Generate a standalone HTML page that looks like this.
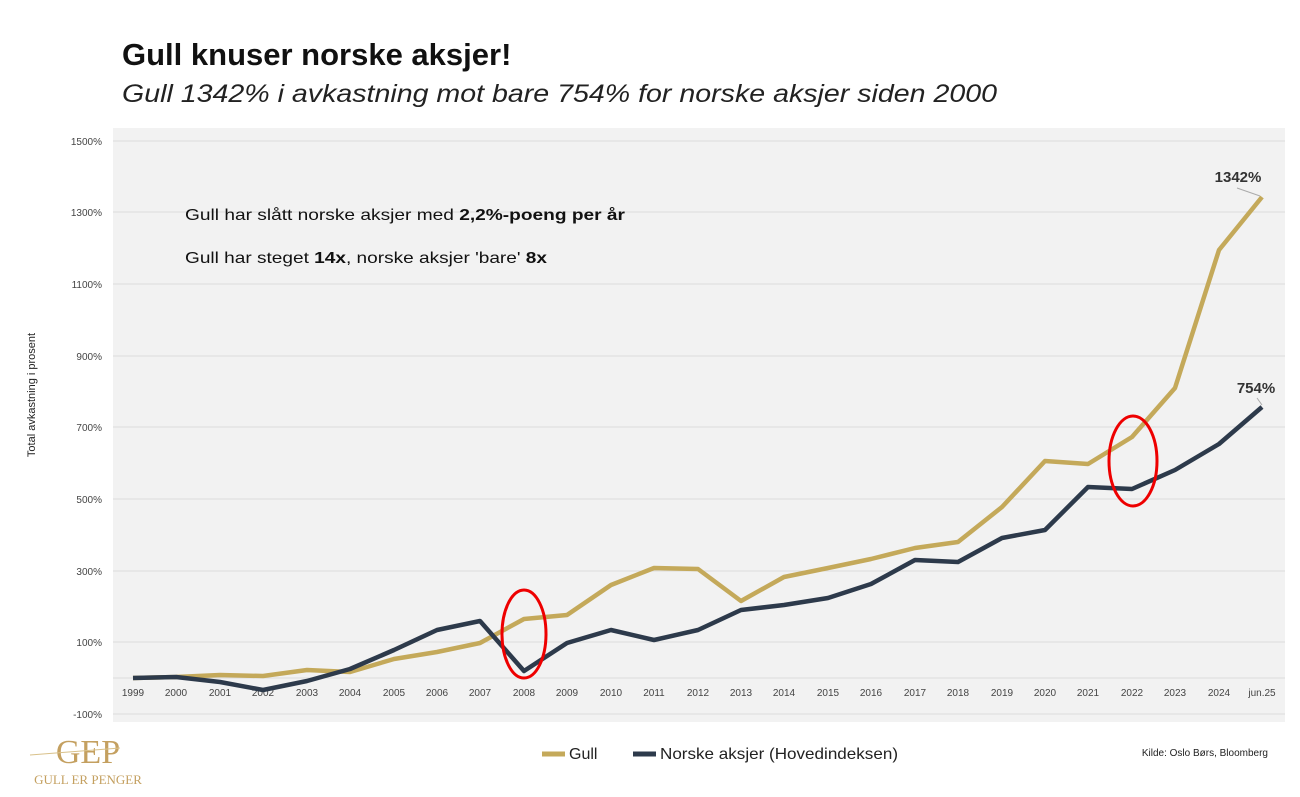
<!DOCTYPE html>
<html><head><meta charset="utf-8"><style>
body{margin:0;width:1300px;height:792px;background:#fff;overflow:hidden;font-family:"Liberation Sans",sans-serif;}
</style></head><body>
<svg width="1300" height="792" xmlns="http://www.w3.org/2000/svg" font-family="Liberation Sans, sans-serif">
<text x="122" y="65" font-size="31" font-weight="bold" fill="#111">Gull knuser norske aksjer!</text>
<text x="122" y="102" font-size="25" font-style="italic" fill="#222" textLength="875" lengthAdjust="spacingAndGlyphs">Gull 1342% i avkastning mot bare 754% for norske aksjer siden 2000</text>
<rect x="113" y="128" width="1172" height="594" fill="#f2f2f2"/>
<g stroke="#dcdcdc" stroke-width="1">
<line x1="113" x2="1285" y1="141" y2="141"/><line x1="113" x2="1285" y1="212" y2="212"/>
<line x1="113" x2="1285" y1="284" y2="284"/><line x1="113" x2="1285" y1="356" y2="356"/>
<line x1="113" x2="1285" y1="427" y2="427"/><line x1="113" x2="1285" y1="499" y2="499"/>
<line x1="113" x2="1285" y1="571" y2="571"/><line x1="113" x2="1285" y1="642" y2="642"/>
<line x1="113" x2="1285" y1="678" y2="678"/><line x1="113" x2="1285" y1="714" y2="714"/>
</g>
<g font-size="10" fill="#444" text-anchor="end">
<text x="102" y="145">1500%</text><text x="102" y="216">1300%</text><text x="102" y="288">1100%</text>
<text x="102" y="360">900%</text><text x="102" y="431">700%</text><text x="102" y="503">500%</text>
<text x="102" y="575">300%</text><text x="102" y="646">100%</text><text x="102" y="718">-100%</text>
</g>
<text transform="translate(35,395) rotate(-90)" font-size="11" fill="#222" text-anchor="middle">Total avkastning i prosent</text>
<g font-size="10" fill="#444" text-anchor="middle">
<text x="133" y="696">1999</text><text x="176" y="696">2000</text><text x="220" y="696">2001</text><text x="263" y="696">2002</text><text x="307" y="696">2003</text><text x="350" y="696">2004</text><text x="394" y="696">2005</text><text x="437" y="696">2006</text><text x="480" y="696">2007</text><text x="524" y="696">2008</text><text x="567" y="696">2009</text><text x="611" y="696">2010</text><text x="654" y="696">2011</text><text x="698" y="696">2012</text><text x="741" y="696">2013</text><text x="784" y="696">2014</text><text x="828" y="696">2015</text><text x="871" y="696">2016</text><text x="915" y="696">2017</text><text x="958" y="696">2018</text><text x="1002" y="696">2019</text><text x="1045" y="696">2020</text><text x="1088" y="696">2021</text><text x="1132" y="696">2022</text><text x="1175" y="696">2023</text><text x="1219" y="696">2024</text><text x="1262" y="696">jun.25</text>
</g>
<polyline fill="none" stroke="#c4a95a" stroke-width="4.5" stroke-linejoin="round" points="133,678 176,677 220,675 263,676 307,670 350,672 394,659 437,652 480,643 524,619 567,615 611,585 654,568 698,569 741,601 784,577 828,568 871,559 915,548 958,542 1002,507 1045,461 1088,464 1132,437 1175,388 1219,250 1262,197"/>
<polyline fill="none" stroke="#2d3a4b" stroke-width="4.5" stroke-linejoin="round" points="133,678 176,677 220,682 263,690 307,681 350,669 394,650 437,630 480,621 524,671 567,643 611,630 654,640 698,630 741,610 784,605 828,598 871,584 915,560 958,562 1002,538 1045,530 1088,487 1132,489 1175,470 1219,444 1262,407"/>
<ellipse cx="524" cy="634" rx="22" ry="44" fill="none" stroke="#e00" stroke-width="3"/>
<ellipse cx="1133" cy="461" rx="24" ry="45" fill="none" stroke="#e00" stroke-width="3"/>
<line x1="1237" y1="188" x2="1260" y2="196" stroke="#aaa"/>
<line x1="1257" y1="398" x2="1262" y2="405" stroke="#aaa"/>
<text x="1238" y="182" font-size="15" font-weight="bold" fill="#333" text-anchor="middle">1342%</text>
<text x="1256" y="393" font-size="15" font-weight="bold" fill="#333" text-anchor="middle">754%</text>
<text x="185" y="220" font-size="16" fill="#111" textLength="440" lengthAdjust="spacingAndGlyphs">Gull har slått norske aksjer med <tspan font-weight="bold">2,2%-poeng per år</tspan></text>
<text x="185" y="263" font-size="16" fill="#111" textLength="362" lengthAdjust="spacingAndGlyphs">Gull har steget <tspan font-weight="bold">14x</tspan>, norske aksjer 'bare' <tspan font-weight="bold">8x</tspan></text>
<line x1="542" y1="754" x2="565" y2="754" stroke="#c4a95a" stroke-width="5"/>
<text x="569" y="759" font-size="16" fill="#222">Gull</text>
<line x1="633" y1="754" x2="656" y2="754" stroke="#2d3a4b" stroke-width="5"/>
<text x="660" y="759" font-size="16" fill="#222" textLength="238" lengthAdjust="spacingAndGlyphs">Norske aksjer (Hovedindeksen)</text>
<text x="1268" y="756" font-size="10" fill="#222" text-anchor="end">Kilde: Oslo Børs, Bloomberg</text>
<text x="88" y="763" font-size="34" font-family="Liberation Serif, serif" fill="#c4a060" text-anchor="middle">GEP</text>
<line x1="30" y1="755" x2="120" y2="748" stroke="#d9c18a" stroke-width="1"/>
<text x="88" y="784" font-size="13" font-family="Liberation Serif, serif" fill="#c4a060" text-anchor="middle">GULL ER PENGER</text>
</svg>
</body></html>
